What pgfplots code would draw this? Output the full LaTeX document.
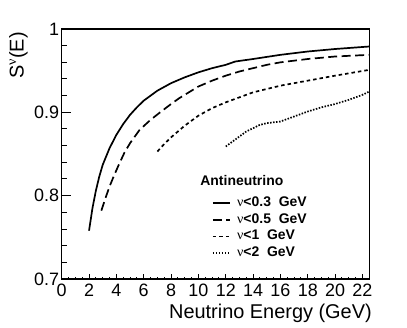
\documentclass[border=0pt]{standalone}
\usepackage{pgfplots}
\pgfplotsset{compat=1.18}
\usepackage{fontspec}
\setmainfont{Liberation Sans}
\newfontfamily\serifnu{Liberation Serif}
\newcommand{\nuu}{{\serifnu\mdseries ν}}
\begin{document}
\begin{tikzpicture}
\path[use as bounding box] (-61.7bp,-49bp) rectangle (345.3bp,279bp);
\begin{axis}[
  scale only axis, width=307.6bp, height=250bp,
  at={(0,0)}, anchor=south west,
  xmin=0, xmax=22.5, ymin=0.7, ymax=1,
  xtick={0,2,...,22}, ytick={0.7,0.8,0.9,1},
  yticklabels={0.7,0.8,0.9,1},
  minor x tick num=3, minor y tick num=4,
  xtick pos=bottom, ytick pos=left, tick align=inside,
  axis line style={line width=1.1bp},
  every tick/.style={black, line width=1bp},
  xtick style={/pgfplots/major tick length=5bp, /pgfplots/minor tick length=2.5bp},
  ytick style={/pgfplots/major tick length=9bp, /pgfplots/minor tick length=5bp},
  /pgf/number format/assume math mode=true,
  tick label style={font=\fontsize{18}{20}\selectfont},
  xticklabel style={inner sep=0pt, anchor=base, yshift=-17bp},
  yticklabel style={inner sep=0pt, anchor=east, xshift=-2.4bp},
  xlabel={Neutrino Energy (GeV)},
  xlabel style={at={(rel axis cs:1.0087,-0.157)}, anchor=base east, inner sep=0pt, font=\fontsize{20}{22}\selectfont},
  ylabel={S\textsuperscript{\nuu}(E)},
  ylabel style={at={(rel axis cs:-0.1094,0.988)}, anchor=south east, inner sep=0pt, font=\fontsize{20}{22}\selectfont},
  legend image code/.code={\draw[#1] (0bp,0bp) -- (16.7bp,0bp);},
  legend cell align=left,
  legend style={draw=none, fill=none, at={(axis cs:11,0.801)}, anchor=north west,
    inner sep=0pt, outer sep=0pt, row sep=0pt, column sep=6.7bp,
    nodes={inner sep=0pt, text height=11.7bp, text depth=5bp,
      font=\bfseries\fontsize{14}{16}\selectfont}},
]
\addplot[black, line width=1.7bp] coordinates {
(2.0,0.758) (2.25,0.785) (2.5,0.806) (2.75,0.823) (3.0,0.837) (3.5,0.857)
(4.0,0.873) (4.5,0.886) (5.0,0.897) (5.5,0.906) (6.0,0.914) (7.0,0.926)
(8.0,0.935) (9.0,0.942) (10.0,0.948) (11.0,0.953) (12.0,0.957) (12.7,0.961)
(14.0,0.964) (16.0,0.969) (18.0,0.973) (20.0,0.976) (22.5,0.979)};
\addlegendentry{\nuu<0.3\ \ GeV}
\addplot[black, line width=1.7bp, dash pattern=on 9bp off 4.5bp] coordinates {
(2.9,0.782) (3.2,0.797) (3.5,0.811) (3.8,0.823) (4.2,0.838) (4.6,0.852)
(5.0,0.863) (5.7,0.879) (6.5,0.891) (7.2,0.900) (8.0,0.910) (8.6,0.917)
(9.5,0.926) (10.0,0.931) (11.0,0.938) (12.0,0.944) (13.0,0.949) (14.0,0.953)
(15.0,0.957) (16.0,0.960) (18.0,0.964) (20.0,0.967) (22.5,0.969)};
\addlegendentry{\nuu<0.5\ \ GeV}
\addplot[black, line width=1.7bp, dash pattern=on 3.5bp off 3bp] coordinates {
(7,0.853) (7.5,0.862) (8,0.870) (9,0.884) (10,0.896) (11,0.905) (12,0.912)
(13,0.918) (14,0.924) (15,0.928) (16,0.932) (18,0.938) (20,0.944) (22.5,0.951)};
\addlegendentry{\nuu<1\ \ GeV}
\addplot[black, line width=1.7bp, dash pattern=on 1.5bp off 1.5bp] coordinates {
(12,0.859) (12.5,0.865) (13,0.871) (13.5,0.877) (14,0.881) (14.5,0.885)
(15,0.887) (16,0.889) (17,0.895) (18,0.901) (19,0.906) (20,0.910)
(21,0.915) (22,0.921) (22.5,0.925)};
\addlegendentry{\nuu<2\ \ GeV}
\node[anchor=base west, inner sep=0pt, font=\bfseries\fontsize{14}{16}\selectfont]
  at (axis cs:10.13,0.8116) {Antineutrino};
\end{axis}
\end{tikzpicture}
\end{document}
